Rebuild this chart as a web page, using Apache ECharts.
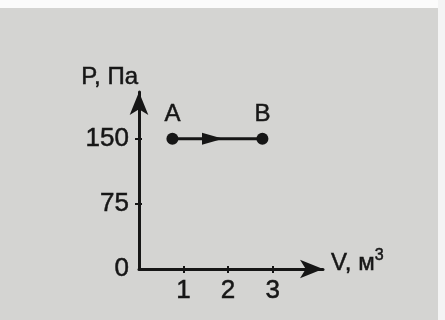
<!DOCTYPE html>
<html>
<head>
<meta charset="utf-8">
<script src="https://cdn.jsdelivr.net/npm/echarts@6/dist/echarts.min.js"></script>
<style>
  html, body { margin: 0; padding: 0; background: #ffffff; }
  #chart { width: 445px; height: 320px; }
</style>
</head>
<body>
<div id="chart"></div>
<script>
// process A -> B at constant pressure
const pointNames = ['A', 'B'];
const volumes = [0.75, 2.77];
const pressures = [150, 150];
const xTicks = [1, 2, 3];
const yTicks = [0, 75, 150];
const arrowAt = [1.65, 150];

const ink = '#161616';
const font = 'Liberation Sans, Arial, sans-serif';

const txt = (size) => ({
  color: ink,
  fontSize: size,
  fontFamily: font,
  textBorderColor: ink,
  textBorderWidth: 0.5,
});

const chart = echarts.init(document.getElementById('chart'));

// inner half of the tick marks, so they cross the axis line
const innerTicks = (values) => ({
  show: true,
  inside: true,
  customValues: values,
  length: 3,
  lineStyle: { color: ink, width: 2 },
});

const option = {
  backgroundColor: '#d4d4d2',
  animation: false,
  graphic: [
    { type: 'rect', shape: { x: 0, y: 0, width: 445, height: 8 }, style: { fill: '#fbfbfb' } },
    { type: 'rect', shape: { x: 438, y: 0, width: 7, height: 320 }, style: { fill: '#f4f4f4' } },
  ],
  grid: { left: 139, top: 92, width: 184, height: 177 },
  xAxis: [
    {
      type: 'value',
      min: 0,
      max: 4.13,
      name: '{v|V, м}{s|3}',
      nameLocation: 'end',
      nameGap: 8,
      nameTextStyle: {
        rich: {
          v: Object.assign(txt(24), { verticalAlign: 'bottom' }),
          s: Object.assign(txt(16), { verticalAlign: 'bottom', padding: [0, 0, 11, 0] }),
        },
        padding: [0, 0, 15, 0],
      },
      axisLine: {
        show: true,
        lineStyle: { color: ink, width: 3 },
        symbol: ['none', 'arrow'],
        symbolSize: [14, 23],
      },
      axisTick: { show: true, customValues: xTicks, length: 4, lineStyle: { color: ink, width: 2 } },
      axisLabel: Object.assign(txt(26), { customValues: xTicks, margin: 9 }),
      splitLine: { show: false },
    },
    {
      type: 'value',
      position: 'bottom',
      min: 0,
      max: 4.13,
      axisLine: { show: false },
      axisTick: innerTicks(xTicks),
      axisLabel: { show: false },
      splitLine: { show: false },
    },
  ],
  yAxis: [
    {
      type: 'value',
      min: 0,
      max: 204,
      name: 'P, Па',
      nameLocation: 'end',
      nameGap: 3,
      nameTextStyle: Object.assign(txt(24), { align: 'right', padding: [0, 1, 0, 0] }),
      axisLine: {
        show: true,
        lineStyle: { color: ink, width: 3 },
        symbol: ['none', 'arrow'],
        symbolSize: [14, 23],
      },
      axisTick: { show: true, customValues: yTicks.slice(1), length: 4, lineStyle: { color: ink, width: 2 } },
      axisLabel: Object.assign(txt(26), { customValues: yTicks, margin: 10 }),
      splitLine: { show: false },
    },
    {
      type: 'value',
      position: 'left',
      min: 0,
      max: 204,
      axisLine: { show: false },
      axisTick: innerTicks(yTicks.slice(1)),
      axisLabel: { show: false },
      splitLine: { show: false },
    },
  ],
  series: [
    {
      type: 'line',
      data: volumes.map((v, i) => ({ value: [v, pressures[i]], name: pointNames[i] })),
      symbol: 'circle',
      symbolSize: 12,
      itemStyle: { color: ink },
      lineStyle: { color: ink, width: 3 },
      label: Object.assign(txt(24), {
        show: true,
        position: 'top',
        distance: 6,
        formatter: (p) => p.name,
      }),
      markPoint: {
        symbol: 'triangle',
        symbolRotate: -90,
        symbolSize: [12, 21],
        itemStyle: { color: ink },
        label: { show: false },
        data: [{ coord: arrowAt }],
      },
    },
  ],
};

chart.setOption(option);
</script>
</body>
</html>
